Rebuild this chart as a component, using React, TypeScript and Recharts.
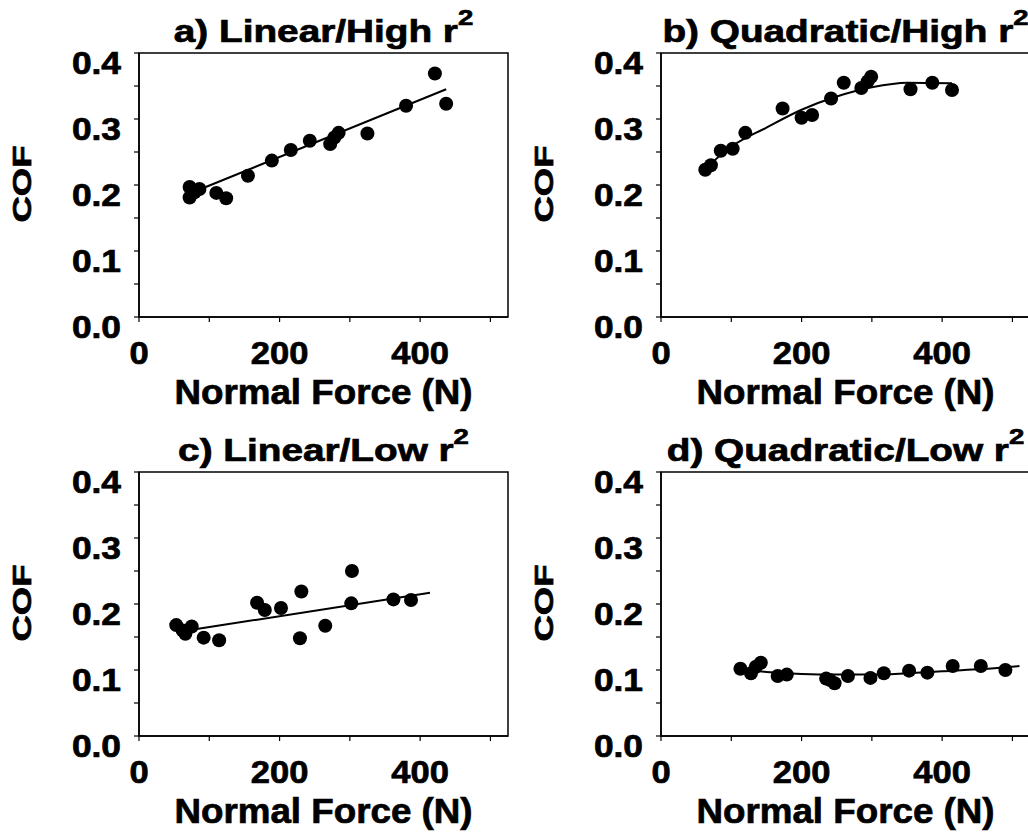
import { ComposedChart, Line, Scatter, XAxis, YAxis, ReferenceArea } from 'recharts';

const FONT = "'Liberation Sans', Arial, Helvetica, sans-serif";

const xTicks = [0, 100, 200, 300, 400, 500];
const xLabeled = [0, 200, 400];
const yTicks = [0, 0.05, 0.1, 0.15, 0.2, 0.25, 0.3, 0.35, 0.4];

// a) Linear / High r2
const forceA = [72, 72, 79, 86, 110, 124, 155, 189, 216, 243, 272, 278, 284, 325, 380, 421, 437];
const cofA = [0.197, 0.181, 0.189, 0.194, 0.188, 0.18, 0.214, 0.237, 0.253, 0.267, 0.262, 0.272, 0.279, 0.278, 0.32, 0.369, 0.323];
const fitForceA = [88, 437];
const fitCofA = [0.194, 0.345];

// b) Quadratic / High r2
const forceB = [63, 71, 85, 102, 120, 173, 200, 215, 242, 260, 285, 294, 299, 355, 386, 414];
const cofB = [0.223, 0.23, 0.252, 0.255, 0.279, 0.316, 0.302, 0.306, 0.331, 0.355, 0.347, 0.357, 0.364, 0.345, 0.355, 0.344];
const fitForceB = [64, 100, 150, 200, 250, 300, 350, 414];
const fitCofB = [0.226, 0.258, 0.287, 0.314, 0.334, 0.348, 0.355, 0.354];

// c) Linear / Low r2
const forceC = [53, 62, 66, 75, 92, 114, 168, 179, 202, 229, 231, 265, 302, 303, 362, 387];
const cofC = [0.168, 0.16, 0.155, 0.166, 0.149, 0.145, 0.202, 0.191, 0.194, 0.148, 0.219, 0.167, 0.201, 0.25, 0.207, 0.206];
const fitForceC = [82, 414];
const fitCofC = [0.162, 0.217];

// d) Quadratic / Low r2
const forceD = [113, 128, 135, 142, 166, 179, 235, 240, 247, 266, 298, 317, 353, 379, 415, 455, 490];
const cofD = [0.102, 0.095, 0.105, 0.111, 0.091, 0.093, 0.087, 0.085, 0.08, 0.091, 0.088, 0.095, 0.099, 0.096, 0.106, 0.106, 0.1];
const fitForceD = [113, 150, 200, 250, 300, 350, 400, 450, 510];
const fitCofD = [0.101, 0.097, 0.094, 0.093, 0.093, 0.095, 0.098, 0.101, 0.106];

const zip = (xs: number[], ys: number[]) => xs.map((x, i) => ({ x, y: ys[i] }));

const isMajor = (v: number) => Math.abs(v * 10 - Math.round(v * 10)) < 1e-6;

// heavier glyphs, the source figure is a blurry bold font
const ink = { fill: '#000', stroke: '#000', strokeWidth: 0.7 };

function YTick({ x, y, payload }: any) {
  if (!isMajor(payload.value)) return <g />;
  return (
    <text transform={`translate(${x},${y + 21}) scale(1.14,1)`} textAnchor="end" fontFamily={FONT} fontWeight="bold" fontSize={31} {...ink}>
      {payload.value.toFixed(1)}
    </text>
  );
}

function XTick({ x, y, payload }: any) {
  if (!xLabeled.includes(payload.value)) return <g />;
  return (
    <text transform={`translate(${x},${y + 42}) scale(1.08,1)`} textAnchor="middle" fontFamily={FONT} fontWeight="bold" fontSize={32} {...ink}>
      {payload.value}
    </text>
  );
}

function PanelText({ viewBox, title }: any) {
  const { x, y, width, height } = viewBox;
  const cx = x + width / 2;
  return (
    <g fontFamily={FONT} fontWeight="bold" {...ink}>
      <text transform={`translate(${cx},${y - 11}) scale(1.25,1)`} textAnchor="middle" fontSize={31}>
        {title} r<tspan dy={-17} fontSize={22}>2</tspan>
      </text>
      <text transform={`translate(${x - 108},${y + height / 2 - 1}) rotate(-90) scale(1.4,1)`} textAnchor="middle" fontSize={26}>
        COF
      </text>
      <text transform={`translate(${cx},${y + height + 87}) scale(1.05,1)`} textAnchor="middle" fontSize={35}>
        Normal Force (N)
      </text>
    </g>
  );
}

const Dot = (p: any) => <circle cx={p.cx} cy={p.cy} r={7} fill="#000" />;

function Panel({ title, points, fit, curved }: { title: string; points: { x: number; y: number }[]; fit: { x: number; y: number }[]; curved?: boolean }) {
  return (
    <ComposedChart width={520} height={420} margin={{ top: 53, right: 12, bottom: 0, left: 0 }}>
      <XAxis
        type="number"
        dataKey="x"
        domain={[0, 525]}
        ticks={xTicks}
        interval={0}
        height={103}
        tickSize={5}
        tickMargin={0}
        tick={<XTick />}
        axisLine={{ stroke: '#000', strokeWidth: 1.5 }}
        tickLine={{ stroke: '#000', strokeWidth: 1.2 }}
        allowDataOverflow
      />
      <YAxis
        type="number"
        dataKey="y"
        domain={[0, 0.4]}
        ticks={yTicks}
        interval={0}
        width={139}
        tickSize={5}
        tickMargin={13}
        tick={<YTick />}
        axisLine={{ stroke: '#000', strokeWidth: 1.5 }}
        tickLine={{ stroke: '#000', strokeWidth: 1.2 }}
        allowDataOverflow
      />
      <ReferenceArea
        x1={0}
        x2={525}
        y1={0}
        y2={0.4}
        fill="none"
        stroke="#000"
        strokeWidth={1.5}
        label={(p: any) => <PanelText viewBox={p.viewBox} title={title} />}
      />
      <Line
        data={fit}
        dataKey="y"
        type={curved ? 'monotone' : 'linear'}
        stroke="#000"
        strokeWidth={2}
        dot={false}
        activeDot={false}
        isAnimationActive={false}
      />
      <Scatter data={points} dataKey="y" shape={<Dot />} isAnimationActive={false} />
    </ComposedChart>
  );
}

export default function App() {
  return (
    <div style={{ position: 'absolute', left: 0, top: 0, width: 1028, height: 837, overflow: 'hidden', background: '#fff' }}>
      <div style={{ position: 'absolute', left: 0, top: 0 }}>
        <Panel title="a) Linear/High" points={zip(forceA, cofA)} fit={zip(fitForceA, fitCofA)} />
      </div>
      <div style={{ position: 'absolute', left: 522, top: 0 }}>
        <Panel title="b) Quadratic/High" points={zip(forceB, cofB)} fit={zip(fitForceB, fitCofB)} curved />
      </div>
      <div style={{ position: 'absolute', left: 0, top: 419 }}>
        <Panel title="c) Linear/Low" points={zip(forceC, cofC)} fit={zip(fitForceC, fitCofC)} />
      </div>
      <div style={{ position: 'absolute', left: 522, top: 419 }}>
        <Panel title="d) Quadratic/Low" points={zip(forceD, cofD)} fit={zip(fitForceD, fitCofD)} curved />
      </div>
    </div>
  );
}
